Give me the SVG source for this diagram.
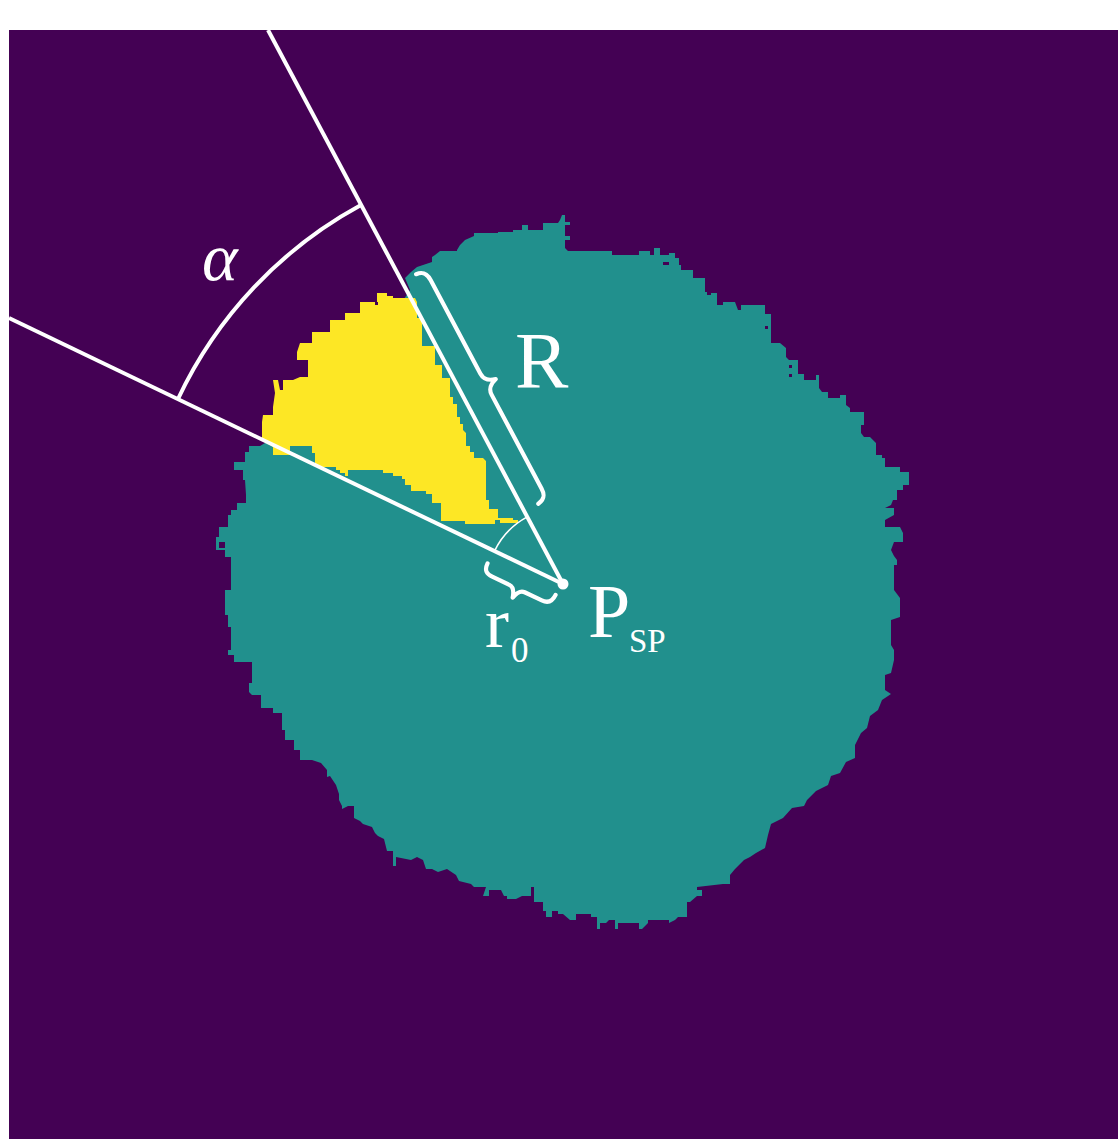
<svg xmlns="http://www.w3.org/2000/svg" width="1119" height="1139" viewBox="0 0 1119 1139">
<defs>
<style>
.bg{fill:#ffffff}
.purple{fill:#440154}
.teal{fill:#21908d}
.yellow{fill:#fde725}
.ln{stroke:#ffffff;stroke-width:4;fill:none;stroke-linecap:butt}
.thin{stroke:#ffffff;stroke-width:1.6;fill:none}
.brace{stroke:#ffffff;stroke-width:4.2;fill:none;stroke-linecap:round;stroke-linejoin:round}
.lbl{font-family:"Liberation Serif","Times New Roman",serif;fill:#ffffff}
</style>
</defs>
<rect class="bg" x="0" y="0" width="1119" height="1139"/>
<g id="image">
<rect class="purple" x="9" y="30" width="1109" height="1109"/>
<polygon id="blob" class="teal" points="405,278 411,272 417,267 432,262 432,257 435,255 440,251 457,251 457,250 460,245 465,240 474,236 474,233 498,233 498,232 513,232 513,230 522,230 522,225 528,225 528,230 543,230 543,223 558,223 560,220 562,215 565,215 565,222 570,222 570,225 565,225 565,236 570,236 570,240 565,240 565,248 568,251 612,251 612,255 639,255 639,251 650,251 650,255 654,255 654,248 660,248 660,255 669,255 669,253 675,253 675,258 679,258 679,265 681,265 681,270 693,270 693,278 705,278 705,292 707,292 707,295 711,295 711,293 717,293 717,305 723,305 723,302 735,302 738,310 741,310 741,305 765,305 765,314 771,314 771,343 780,343 786,348 786,357 789,360 798,360 798,374 804,374 804,380 816,380 816,375 819,375 819,388 822,392 828,392 828,398 840,398 840,395 846,395 846,405 850,408 850,412 864,412 864,425 861,425 861,433 864,437 870,437 876,443 876,455 882,455 882,458 885,458 885,467 900,467 900,472 909,472 909,485 903,485 903,490 897,490 897,500 893,500 891,505 885,508 894,508 894,515 885,520 885,527 900,527 903,533 903,542 894,542 891,550 894,556 897,560 897,565 894,565 894,590 897,594 900,598 900,617 891,620 891,645 894,650 894,660 891,673 885,675 885,690 891,694 882,700 878,710 870,716 867,728 861,733 855,745 855,758 846,762 840,773 831,776 828,785 816,791 807,800 804,806 792,808 783,818 771,824 768,835 765,848 756,853 750,857 744,860 735,869 730,875 730,884 723,884 697,887 697,890 702,890 702,896 697,896 690,902 687,902 687,917 678,917 675,920 669,923 669,920 648,920 648,923 642,929 639,929 639,923 618,923 618,929 615,929 615,920 609,920 606,923 600,923 600,929 597,929 597,917 591,917 591,914 576,914 576,920 570,920 563,914 558,914 558,911 552,911 552,917 546,917 546,911 543,911 543,902 534,902 534,887 531,887 531,896 522,896 516,899 507,899 507,896 504,896 501,890 489,890 489,896 483,896 486,887 474,887 471,884 459,881 456,875 447,869 438,872 432,869 426,869 423,860 417,857 411,860 396,857 396,866 393,866 393,851 387,851 384,839 378,836 375,833 372,827 363,824 360,821 354,818 354,806 348,806 342,809 342,806 339,800 339,794 336,785 330,776 327,777 327,770 321,763 312,760 300,760 300,750 294,750 294,740 285,740 285,730 282,730 282,713 273,713 273,708 261,708 261,695 252,695 249,692 249,683 252,683 252,662 234,662 234,655 228,655 228,650 231,650 231,627 228,627 228,615 225,615 225,590 231,590 231,557 225,557 225,550 216,550 216,537 219,537 219,527 228,527 228,515 231,515 231,510 237,510 237,503 246,503 246,495 245,480 243,480 243,470 234,470 234,462 245,462 245,452 249,452 249,446 260,446 265,443 290,440 330,400 380,330 400,305 410,290"/>
<polygon id="sector-region" class="yellow" points="377,293 387,293 387,296 393,296 393,298 415,298 417,302 417,318 422,318 422,346 435,346 435,365 442,365 442,378 450,378 450,397 453,397 453,404 457,404 457,417 460,417 460,424 463,424 463,430 466,433 466,446 470,446 470,452 474,452 474,458 483,458 486,461 486,500 489,500 489,509 498,509 498,518 513,518 513,520 518,520 518,523 500,523 500,520 495,520 495,524 465,524 465,521 441,521 441,503 432,503 432,494 426,494 426,491 411,491 411,485 405,485 405,479 402,479 402,476 393,476 393,473 383,473 383,470 348,470 348,476 345,476 345,473 340,473 340,470 336,470 336,467 315,467 315,453 312,453 312,446 290,446 290,455 273,455 273,447 262,440 262,422 263,415 273,415 273,407 275,393 273,380 278,380 280,390 283,390 283,380 293,380 300,377 308,377 308,360 297,360 297,352 300,343 312,343 312,332 330,332 330,320 345,320 345,313 360,313 360,302 377,302"/>
<rect class="purple" x="219" y="542" width="6" height="6"/>
<rect class="purple" x="765" y="326" width="3" height="3"/>
<rect class="purple" x="789" y="365" width="3" height="3"/>
<rect class="purple" x="789" y="374" width="3" height="3"/>
<rect class="purple" x="663" y="262" width="6" height="3"/>
<rect class="purple" x="375" y="302" width="3" height="3"/>
</g>
<g id="connectors">
<line id="ray-upper" class="ln" x1="268" y1="30" x2="563" y2="584"/>
<line id="ray-lower" class="ln" x1="9" y1="318" x2="563" y2="584"/>
<path id="arc-alpha" class="ln" d="M178,399 A428,428 0 0 1 361,205"/>
<path id="arc-r0" class="thin" d="M494.5,551.1 A76,76 0 0 1 527.3,516.9"/>
<path id="brace-R" class="brace" transform="matrix(0.470 0.883 0.883 -0.470 402.0 281.7)" d="M0,16 C1,24 5,26 12,26 L118,26 C125,26 128,30 130,37 C132,30 135,26 142,26 L248,26 C255,26 259,24 260,16"/>
<path id="brace-r0" class="brace" transform="matrix(0.9015 0.4329 -0.4329 0.9015 493.6 550.7)" d="M0,14 C0,22 4,24 10,24 L29,24 C34,24 36,28 37.5,34 C39,28 41,24 46,24 L65,24 C71,24 75,21 75,13"/>
</g>
<g id="node-Psp">
<circle cx="563" cy="584" r="5.5" fill="#ffffff"/>
<text class="lbl" x="588" y="637" font-size="76">P</text>
<text class="lbl" x="629" y="652" font-size="33">SP</text>
</g>
<g id="label-alpha">
<text class="lbl" x="202" y="280" font-size="68" font-style="italic">α</text>
</g>
<g id="label-R">
<text class="lbl" x="515" y="388" font-size="80">R</text>
</g>
<g id="label-r0">
<text class="lbl" x="485" y="647" font-size="72">r</text>
<text class="lbl" x="511" y="662" font-size="35">0</text>
</g>
</svg>
